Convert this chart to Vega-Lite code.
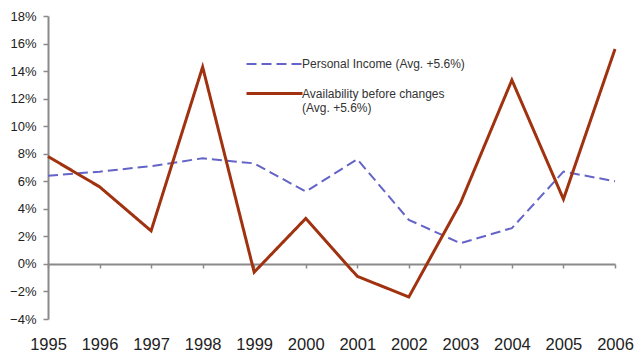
{
  "$schema": "https://vega.github.io/schema/vega-lite/v6.json",
  "width": 567,
  "height": 303,
  "autosize": "none",
  "padding": {"left": 48, "top": 16, "right": 24, "bottom": 35},
  "background": "white",
  "config": {
    "view": {"stroke": null},
    "font": "Liberation Sans",
    "axis": {"grid": false, "domainColor": "#8a8a8a", "tickColor": "#8a8a8a", "domainWidth": 2, "tickWidth": 1.5, "labelColor": "#222222", "labelFont": "Liberation Sans"}
  },
  "data": {
    "values": [
      {"year": "1995", "series": "Personal Income (Avg. +5.6%)", "value": 0.064},
      {"year": "1996", "series": "Personal Income (Avg. +5.6%)", "value": 0.067},
      {"year": "1997", "series": "Personal Income (Avg. +5.6%)", "value": 0.071},
      {"year": "1998", "series": "Personal Income (Avg. +5.6%)", "value": 0.0767},
      {"year": "1999", "series": "Personal Income (Avg. +5.6%)", "value": 0.073},
      {"year": "2000", "series": "Personal Income (Avg. +5.6%)", "value": 0.0525},
      {"year": "2001", "series": "Personal Income (Avg. +5.6%)", "value": 0.076},
      {"year": "2002", "series": "Personal Income (Avg. +5.6%)", "value": 0.032},
      {"year": "2003", "series": "Personal Income (Avg. +5.6%)", "value": 0.015},
      {"year": "2004", "series": "Personal Income (Avg. +5.6%)", "value": 0.026},
      {"year": "2005", "series": "Personal Income (Avg. +5.6%)", "value": 0.067},
      {"year": "2006", "series": "Personal Income (Avg. +5.6%)", "value": 0.06},
      {"year": "1995", "series": "Availability before changes (Avg. +5.6%)", "value": 0.078},
      {"year": "1996", "series": "Availability before changes (Avg. +5.6%)", "value": 0.056},
      {"year": "1997", "series": "Availability before changes (Avg. +5.6%)", "value": 0.024},
      {"year": "1998", "series": "Availability before changes (Avg. +5.6%)", "value": 0.143},
      {"year": "1999", "series": "Availability before changes (Avg. +5.6%)", "value": -0.006},
      {"year": "2000", "series": "Availability before changes (Avg. +5.6%)", "value": 0.033},
      {"year": "2001", "series": "Availability before changes (Avg. +5.6%)", "value": -0.009},
      {"year": "2002", "series": "Availability before changes (Avg. +5.6%)", "value": -0.024},
      {"year": "2003", "series": "Availability before changes (Avg. +5.6%)", "value": 0.044},
      {"year": "2004", "series": "Availability before changes (Avg. +5.6%)", "value": 0.1335},
      {"year": "2005", "series": "Availability before changes (Avg. +5.6%)", "value": 0.047},
      {"year": "2006", "series": "Availability before changes (Avg. +5.6%)", "value": 0.156}
    ]
  },
  "mark": {"type": "line", "strokeCap": "butt", "strokeJoin": "miter"},
  "encoding": {
    "x": {
      "field": "year",
      "type": "ordinal",
      "scale": {"type": "point", "padding": 0},
      "axis": {"title": null, "labelAngle": 0, "offset": -55, "tickSize": 4, "labelPadding": 68, "labelFontSize": 16.5, "labelBaseline": "top"}
    },
    "y": {
      "field": "value",
      "type": "quantitative",
      "scale": {"domain": [-0.04, 0.18], "nice": false, "zero": false},
      "axis": {"title": null, "format": ".0%", "values": [-0.04, -0.02, 0, 0.02, 0.04, 0.06, 0.08, 0.1, 0.12, 0.14, 0.16, 0.18], "tickSize": 5, "labelPadding": 7, "labelFontSize": 13}
    },
    "color": {
      "field": "series",
      "type": "nominal",
      "scale": {"domain": ["Personal Income (Avg. +5.6%)", "Availability before changes (Avg. +5.6%)"], "range": ["#6464c8", "#a0320f"]},
      "legend": {
        "title": null,
        "orient": "none",
        "legendX": 197,
        "legendY": 40,
        "padding": 0,
        "symbolType": "M-1,0H7",
        "symbolSize": 196,
        "labelOffset": 40,
        "labelFontSize": 12,
        "labelColor": "#333333",
        "rowPadding": 15,
        "labelLimit": 300,
        "labelExpr": "datum.label == 'Availability before changes (Avg. +5.6%)' ? ['Availability before changes', '(Avg. +5.6%)'] : datum.label"
      }
    },
    "strokeDash": {
      "field": "series",
      "type": "nominal",
      "scale": {"domain": ["Personal Income (Avg. +5.6%)", "Availability before changes (Avg. +5.6%)"], "range": [[10, 5], [1, 0]]},
      "legend": null
    },
    "strokeWidth": {
      "field": "series",
      "type": "nominal",
      "scale": {"domain": ["Personal Income (Avg. +5.6%)", "Availability before changes (Avg. +5.6%)"], "range": [2, 3]},
      "legend": null
    }
  }
}
